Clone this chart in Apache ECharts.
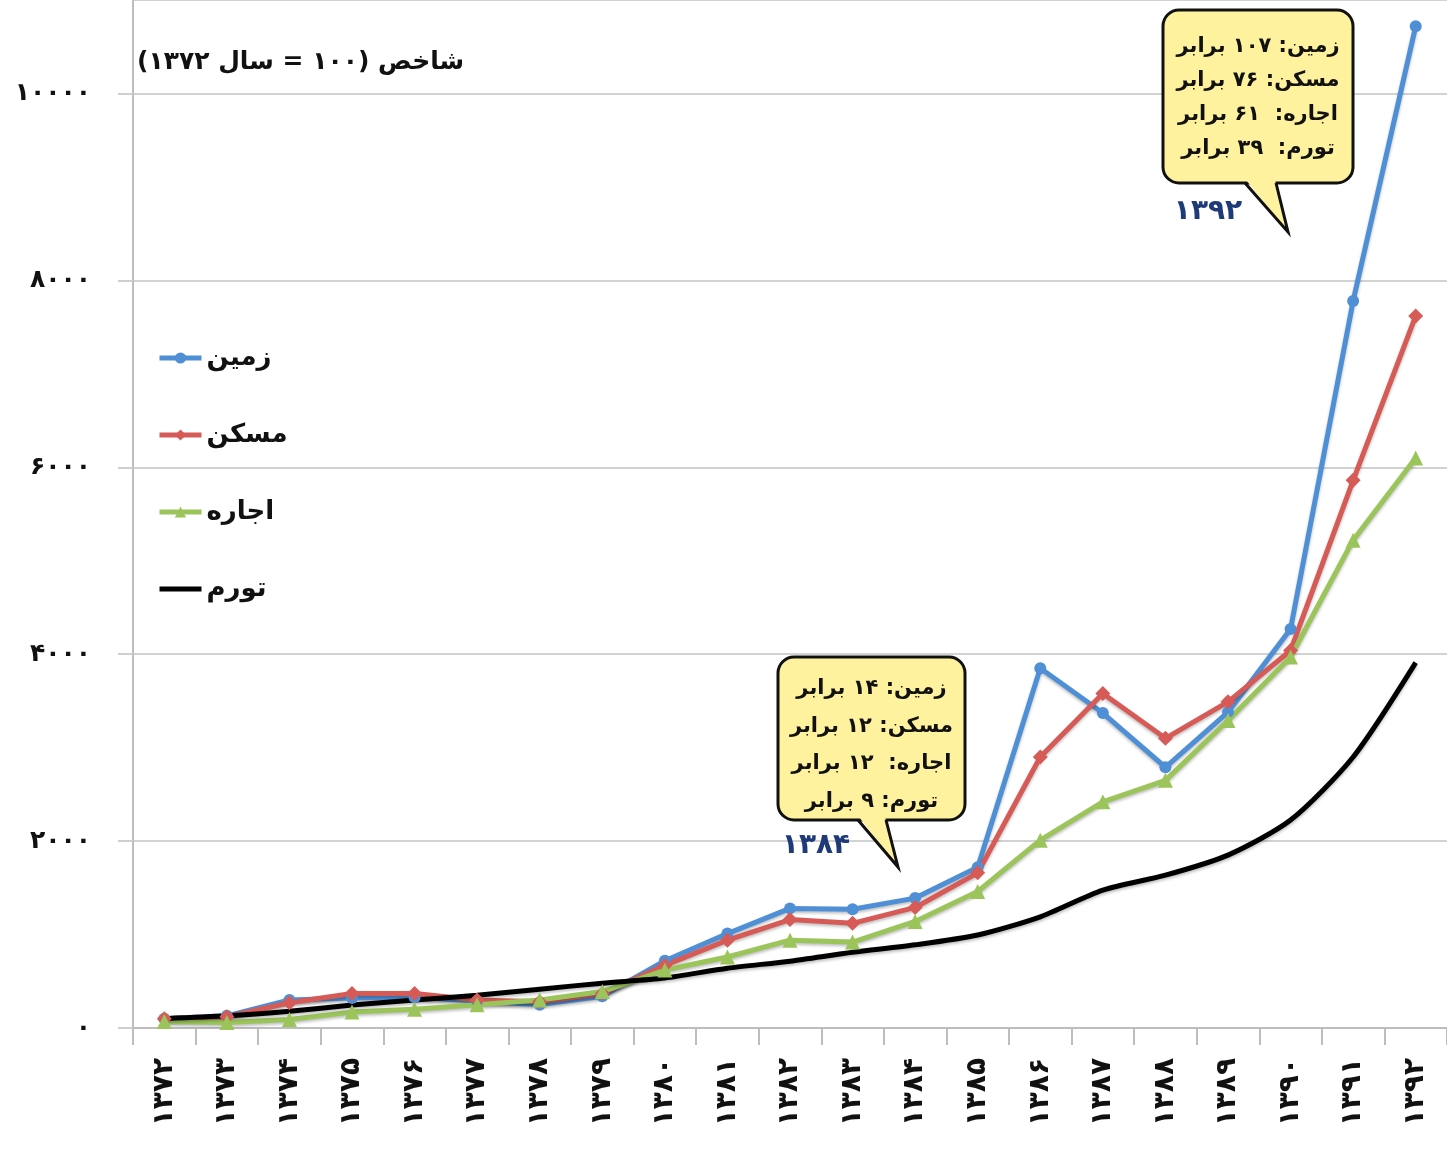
<!DOCTYPE html>
<html>
<head>
<meta charset="utf-8">
<script src="https://cdn.jsdelivr.net/npm/echarts@6/dist/echarts.min.js"></script>
<style>
html,body{margin:0;padding:0;background:#fff;}
#c{width:1447px;height:1151px;}
</style>
</head>
<body>
<div id="c" dir="rtl"></div>
<script>
// ---- data ----
const years = ['۱۳۷۲','۱۳۷۳','۱۳۷۴','۱۳۷۵','۱۳۷۶','۱۳۷۷','۱۳۷۸','۱۳۷۹','۱۳۸۰','۱۳۸۱','۱۳۸۲','۱۳۸۳','۱۳۸۴','۱۳۸۵','۱۳۸۶','۱۳۸۷','۱۳۸۸','۱۳۸۹','۱۳۹۰','۱۳۹۱','۱۳۹۲'];
const seriesNames = ['زمین','مسکن','اجاره','تورم'];
const zamin   = [100,130,300,320,330,290,250,340,720,1010,1280,1270,1390,1720,3850,3370,2790,3380,4270,7780,10720];
const maskan  = [100,120,270,370,370,300,280,370,670,940,1160,1120,1290,1660,2900,3580,3100,3490,4040,5860,7620];
const ejare   = [70,60,90,170,200,250,300,390,620,760,940,920,1140,1460,2010,2420,2650,3290,3970,5220,6100];
const tavarom = [100,130,180,245,300,350,415,480,535,640,715,810,890,995,1190,1475,1635,1850,2225,2900,3910];
const yTicks = [0,2000,4000,6000,8000,10000];
const titleText = 'شاخص (۱۰۰ = سال ۱۳۷۲)\u200F';
const note1392 = ['زمین: ۱۰۷ برابر','مسکن: ۷۶ برابر','اجاره:  ۶۱ برابر','تورم:  ۳۹ برابر'];
const note1384 = ['زمین: ۱۴ برابر','مسکن: ۱۲ برابر','اجاره:  ۱۲ برابر','تورم: ۹ برابر'];
const yearLabel1 = '۱۳۹۲';
const yearLabel2 = '۱۳۸۴';

const FONT = '"DejaVu Sans", sans-serif';
const fa = s => String(s).replace(/\d/g, d => '۰۱۲۳۴۵۶۷۸۹'[+d]);

const YELLOW = '#FFF29E';
function callout(x1, y1, x2, y2, tl, tip, tr, lines, textTop, lh) {
  return [
    {type: 'rect', z: 100, shape: {x: x1, y: y1, width: x2 - x1, height: y2 - y1, r: 16},
      style: {fill: YELLOW, stroke: '#111', lineWidth: 3}},
    {type: 'polygon', z: 101, shape: {points: [[tl + 1, y2 - 3], tip, [tr - 1, y2 - 3]]},
      style: {fill: YELLOW, stroke: null}},
    {type: 'polyline', z: 102, shape: {points: [[tl, y2], tip, [tr, y2]]},
      style: {fill: null, stroke: '#111', lineWidth: 3, lineJoin: 'miter'}},
    {type: 'text', z: 103, x: (x1 + x2) / 2, y: textTop,
      style: {text: lines.join('\n'), align: 'center', verticalAlign: 'top', lineHeight: lh,
        font: 'bold 21px ' + FONT, fill: '#111'}}
  ];
}

const colors = ['#4F8FD6', '#D65A55', '#9BC55B', '#000000'];
const chart = echarts.init(document.getElementById('c'));
const mk = (name, data, color, symbol, size) => ({
  name, type: 'line', data,
  symbol, symbolSize: size,
  showSymbol: symbol !== 'none',
  smooth: symbol === 'none' ? 0.25 : false,
  lineStyle: {color, width: 5, shadowColor: 'rgba(0,0,0,0.25)', shadowBlur: 3, shadowOffsetY: 2},
  itemStyle: {color},
  emphasis: {disabled: true},
  z: 2
});

chart.setOption({
  animation: false,
  backgroundColor: '#ffffff',
  title: {
    text: titleText, left: 132, top: 45,
    textStyle: {fontFamily: FONT, fontSize: 25, fontWeight: 'bold', color: '#111'}
  },
  legend: {
    orient: 'vertical', left: 152, top: 338,
    itemWidth: 42, itemHeight: 14, itemGap: 47,
    lineStyle: {width: 5},
    data: seriesNames.map((n, i) => i === 3 ? {name: n, itemStyle: {opacity: 0}} : {name: n}),
    textStyle: {fontFamily: FONT, fontSize: 26, fontWeight: 'bold', color: '#111', lineHeight: 30}
  },
  grid: {left: 133, right: -5, top: 0, bottom: 123, containLabel: false},
  xAxis: {
    type: 'category', data: years, boundaryGap: true,
    axisLine: {lineStyle: {color: '#bdbdbd', width: 2}},
    axisTick: {show: true, length: 17, lineStyle: {color: '#bdbdbd', width: 2}},
    axisLabel: {rotate: 90, margin: 30, fontFamily: FONT, fontSize: 28, fontWeight: 'bold', color: '#111', interval: 0}
  },
  yAxis: {
    type: 'value', min: 0, max: 11000, interval: 2000,
    axisLine: {show: true, lineStyle: {color: '#bdbdbd', width: 2}},
    axisTick: {show: true, length: 15, lineStyle: {color: '#cfcfcf', width: 2}},
    splitLine: {show: true, lineStyle: {color: '#d2d2d2', width: 2}},
    axisLabel: {
      margin: 42, fontFamily: FONT, fontSize: 25, fontWeight: 'bold', color: '#111',
      showMaxLabel: false,
      formatter: v => yTicks.includes(v) ? fa(v) : ''
    }
  },
  series: [
    mk(seriesNames[0], zamin, colors[0], 'circle', 12),
    mk(seriesNames[1], maskan, colors[1], 'diamond', 15),
    mk(seriesNames[2], ejare, colors[2], 'triangle', 15),
    mk(seriesNames[3], tavarom, colors[3], 'none', 0)
  ],
  graphic: [].concat(
    callout(1163, 10, 1353, 183, 1245, [1288, 232], 1276, note1392, 30, 34),
    [{type: 'text', z: 101, x: 1208, y: 212,
      style: {text: yearLabel1, align: 'center', verticalAlign: 'middle', font: 'bold 28px ' + FONT, fill: '#1F3A78'}}],
    callout(778, 657, 965, 820, 858, [898, 867], 886, note1384, 670, 37.5),
    [{type: 'text', z: 101, x: 816, y: 846,
      style: {text: yearLabel2, align: 'center', verticalAlign: 'middle', font: 'bold 28px ' + FONT, fill: '#1F3A78'}}]
  )
});
</script>
</body>
</html>
